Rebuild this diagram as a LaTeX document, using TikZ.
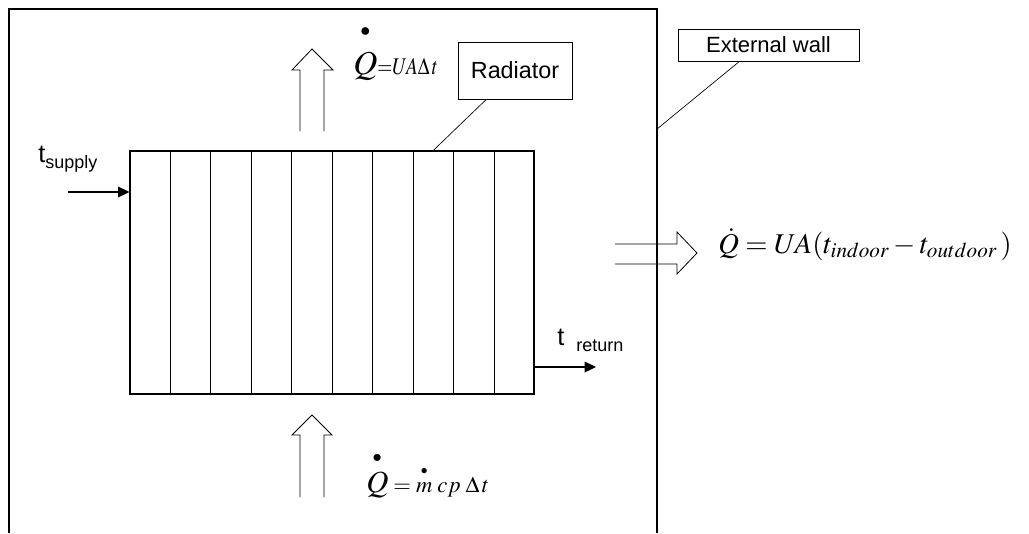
\documentclass[tikz,border=0pt]{standalone}
\usepackage{amsmath}
\usepackage{mathptmx}
\usepackage{fontspec}
\setmainfont{Liberation Serif}
\setsansfont{Liberation Sans}
\usepackage{tikz}
\usetikzlibrary{
    arrows.meta,
    positioning,
    calc
}
\newcommand{\hdot}[2]{\overset{\raisebox{#1}{$\scriptscriptstyle\bullet$}}{#2}}
\tikzstyle{wall} = [
    draw,
    line width=1pt
]
\tikzstyle{radiator} = [
    rectangle,
    draw,
    line width=0.8pt,
    minimum width=303pt,
    minimum height=182.25pt,
    inner sep=0pt
]
\tikzstyle{callout} = [
    rectangle,
    draw,
    line width=0.6pt,
    inner sep=0pt,
    font=\sffamily
]
\tikzstyle{leader} = [
    draw,
    line width=0.5pt
]
\tikzstyle{pipe} = [
    -{Triangle[length=8.5pt, width=8pt]},
    line width=0.9pt
]
\tikzstyle{heat} = [
    draw,
    line width=0.6pt,
    line join=miter
]
\tikzstyle{formula} = [
    anchor=base west,
    inner sep=0pt
]

\begin{document}
\begin{tikzpicture}[x=0.75pt, y=-0.75pt]
    \useasboundingbox (0,0) rectangle (1029,533);

    % Room and external wall
    \draw[wall] (9,533) |- (657,9) -- (657,533);
    \coordinate (wallpt) at (657,129);

    % Radiator with its sections
    \node[radiator] (rad) at (332,272.5) {};
    \foreach \i in {1,...,9}
        \draw[line width=0.7pt] ($(rad.north west)!\i/10!(rad.north east)$) -- ($(rad.south west)!\i/10!(rad.south east)$);

    % Callouts
    \node[callout, minimum width=85.5pt, minimum height=42.75pt, font=\sffamily\fontsize{17.5}{17.5}\selectfont] (radlabel) at (515,70.5) {Radiator};
    \node[callout, minimum width=135.75pt, minimum height=24pt, font=\sffamily\fontsize{16.5}{16.5}\selectfont] (walllabel) at (768.5,45) {External wall};
    \draw[leader] ($(radlabel.south west)!0.25!(radlabel.south east)$) -- ($(rad.north west)!0.75!(rad.north east)$);
    \draw[leader] ($(walllabel.south west)!0.34!(walllabel.south east)$) -- (wallpt);

    % Supply and return water
    \coordinate (supplyin) at (68,192);
    \coordinate (returnout) at (596,367);
    \draw[pipe] (supplyin) -- (supplyin -| rad.west);
    \draw[pipe] (returnout -| rad.east) -- (returnout);
    \node[formula, font=\sffamily] (tsupply) at (38,162) {{\fontsize{19}{19}\selectfont t}\raisebox{-5pt}{\fontsize{13.5}{13.5}\selectfont supply}};
    \node[formula, font=\sffamily] (treturn) at (557,345) {{\fontsize{19}{19}\selectfont t}\hspace{9pt}\raisebox{-4.5pt}{\fontsize{13.5}{13.5}\selectfont return}};

    % Heat flow arrows
    \draw[heat] (300,131) -- (300,70) -- (292,70) -- (312,49) -- (333,70) -- (324,70) -- (324,131);
    \draw[heat] (300,497) -- (300,435) -- (292,435) -- (312,415) -- (332,435) -- (324,435) -- (324,497);
    \draw[heat] (615,244) -- (677,244) -- (677,232) -- (697,253) -- (677,274) -- (677,264) -- (615,264);

    % Heat balances
    \node[formula] (qrad) at (353,74) {\fontsize{25}{25}\selectfont$\hdot{6pt}{Q}$\fontsize{18}{18}\selectfont\scalebox{0.8}[1]{${=}UA\Delta\,t$}};
    \node[formula] (qwater) at (366,492) {\fontsize{23}{23}\selectfont$\hdot{2pt}{Q}$\fontsize{17}{17}\selectfont$\;{=}\;\hdot{2pt}{m}\;cp\;\Delta\,t$};
    \node[formula] (qwall) at (718,253) {\fontsize{21.5}{21.5}\selectfont$\dot{Q} = UA(t_{indoor} - t_{outdoor}\,)$};
\end{tikzpicture}
\end{document}
